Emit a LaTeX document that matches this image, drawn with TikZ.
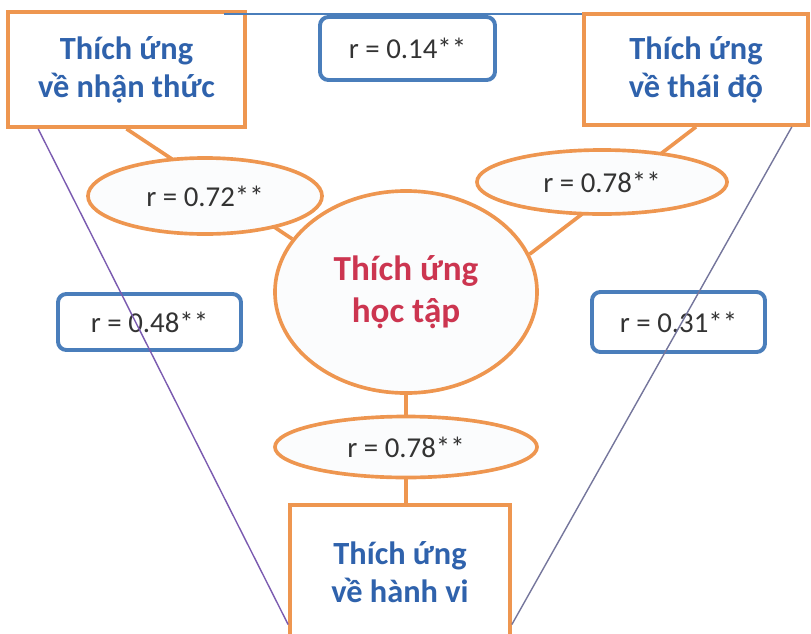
\documentclass[tikz,border=0pt]{standalone}
\usepackage{fontspec}
\setmainfont{Carlito}
\usetikzlibrary{shapes.geometric,calc}
\definecolor{camdam}{HTML}{EE9650}
\definecolor{xanhvien}{HTML}{4A7EBB}
\definecolor{xanhchu}{HTML}{2F62AC}
\definecolor{dochu}{HTML}{CC3550}
\definecolor{timnhat}{HTML}{7B5BB0}
\definecolor{xamtim}{HTML}{75769C}
\definecolor{kem}{HTML}{FBFCFD}
\tikzset{
  hop/.style={draw=camdam,line width=2.6pt,fill=white,align=center,
    text=xanhchu,font=\fontsize{23}{27}\selectfont\bfseries},
  ovan/.style={ellipse,draw=camdam,line width=2.6pt,fill=kem,inner sep=0pt,
    text=black!80,font=\fontsize{20.5}{24}\selectfont},
  khung/.style={draw=xanhvien,line width=2.8pt,rounded corners=6pt,fill=white,
    text=black!80,font=\fontsize{20.5}{24}\selectfont},
  noi/.style={draw=camdam,line width=2.6pt}
}
\begin{document}
\begin{tikzpicture}[x=0.025cm,y=-0.025cm]
\useasboundingbox (0,0) rectangle (811,633);
\clip (0,0) rectangle (811,633);
% ba hop thanh phan
\node[hop,minimum width=5.925cm,minimum height=2.875cm] (nhanthuc) at (126.5,69.5) {Thích ứng\\về nhận thức};
\node[hop,minimum width=5.6cm,minimum height=2.775cm] (thaido) at (696,69.5) {Thích ứng\\về thái độ};
\node[hop,minimum width=5.5cm,minimum height=3.375cm] (hanhvi) at (400,572.5) {Thích ứng\\về hành vi};
% trung tam
\node[ovan,minimum width=6.55cm,minimum height=5.05cm,text=dochu,
  font=\fontsize{25}{30}\selectfont\bfseries,align=center] (hoctap) at (406,292) {Thích ứng\\học tập};
\draw[noi] (nhanthuc.south) -- (hoctap.155);
\draw[noi] (thaido.south) -- (hoctap.17);
\draw[noi] (hoctap.south) -- (hoctap.south |- hanhvi.north);
% he so tuong quan
\node[ovan,minimum width=5.85cm,minimum height=1.9cm] (r072) at (205,196) {r = 0.72**};
\node[ovan,minimum width=6.25cm,minimum height=1.6cm] (r078a) at (602,182) {r = 0.78**};
\node[ovan,minimum width=6.55cm,minimum height=1.525cm] (r078b) at (406,447) {r = 0.78**};
\node[khung,minimum width=4.375cm,minimum height=1.575cm] (r014) at (407.5,48.5) {r = 0.14**};
\node[khung,minimum width=4.575cm,minimum height=1.4cm] (r048) at (149.5,322) {r = 0.48**};
\node[khung,minimum width=4.325cm,minimum height=1.5cm] (r031) at (678.5,322) {r = 0.31**};
% duong noi ngoai
\draw[xanhvien,line width=1.4pt] ([xshift=-0.575cm,yshift=-0.1cm]nhanthuc.north east) coordinate (b1) -- (b1 -| thaido.west);
\draw[timnhat,line width=1pt] ([xshift=0.8cm]nhanthuc.south west) -- ([yshift=-1.3cm]hanhvi.west);
\draw[xamtim,line width=1pt] ([xshift=-0.45cm]thaido.south east) -- ([yshift=-1.3cm]hanhvi.east);
%\draw[red] (0,0) rectangle (811,633);
\end{tikzpicture}
\end{document}
